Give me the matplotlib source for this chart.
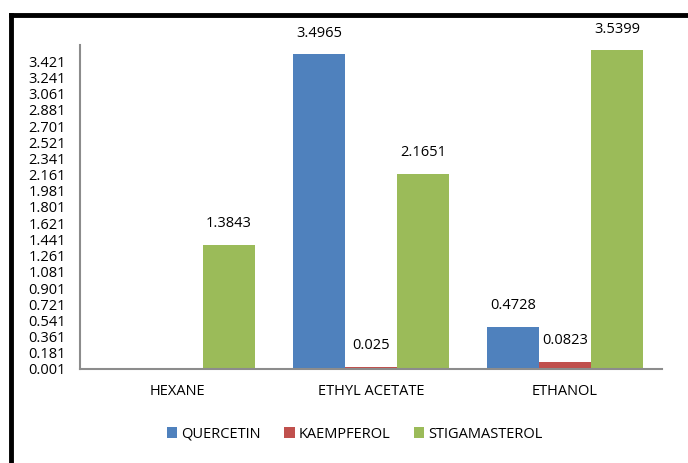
import numpy as np
import matplotlib.pyplot as plt
from matplotlib.lines import Line2D

# --- data ---
solvents = ['HEXANE', 'ETHYL ACETATE', 'ETHANOL']
quercetin = [0.0, 3.4965, 0.4728]
kaempferol = [0.0, 0.025, 0.0823]
stigmasterol = [1.3843, 2.1651, 3.5399]
series_names = ['QUERCETIN', 'KAEMPFEROL', 'STIGAMASTEROL']
y_ticks = [round(0.001 + 0.18 * i, 3) for i in range(20)]

colors = ['#4F81BD', '#C0504D', '#9BBB59']
plt.rcParams['font.family'] = ['Open Sans', 'DejaVu Sans']
fs = 10.5

fig = plt.figure(figsize=(6.88, 4.63), dpi=100)
ax = fig.add_axes([80 / 688, 94 / 463, 582 / 688, 324 / 463])

x = np.arange(len(solvents))
width = 0.268
for i, (vals, name) in enumerate(zip([quercetin, kaempferol, stigmasterol], series_names)):
    pos = x + (i - 1) * width
    bars = ax.bar(pos, vals, width, color=colors[i], label=name, zorder=2)
    for b, v in zip(bars, vals):
        if v > 0:
            ax.annotate(f'{v:g}', (b.get_x() + b.get_width() / 2, v),
                        xytext=(0, 10), textcoords='offset points',
                        ha='center', va='bottom', fontsize=fs)

ax.set_xlim(-0.5, 2.5)
ax.set_ylim(0.001, 3.601)
ax.set_yticks(y_ticks)
ax.set_yticklabels([f'{t:.3f}' for t in y_ticks])
ax.set_xticks(x)
ax.set_xticklabels(solvents)
ax.tick_params(axis='both', length=0, labelsize=fs)
ax.tick_params(axis='x', pad=11)
ax.tick_params(axis='y', pad=10)
for s in ['top', 'right']:
    ax.spines[s].set_visible(False)
for s in ['left', 'bottom']:
    ax.spines[s].set_color('#8C8C8C')
    ax.spines[s].set_linewidth(1.5)

fig.legend(loc='center', bbox_to_anchor=(355 / 688, 1 - 434 / 463), ncol=3,
           frameon=False, handlelength=0.7, handleheight=0.7,
           handletextpad=0.3, columnspacing=1.6, fontsize=fs)

# thick black frame (top and left visible in the picture)
fig.add_artist(Line2D([11 / 688, 1.0], [1 - 15 / 463, 1 - 15 / 463],
                      transform=fig.transFigure, color='black', lw=3.5))
fig.add_artist(Line2D([11 / 688, 11 / 688], [0.0, 1 - 15 / 463],
                      transform=fig.transFigure, color='black', lw=3.5))

fig.savefig('out.png', dpi=100)
